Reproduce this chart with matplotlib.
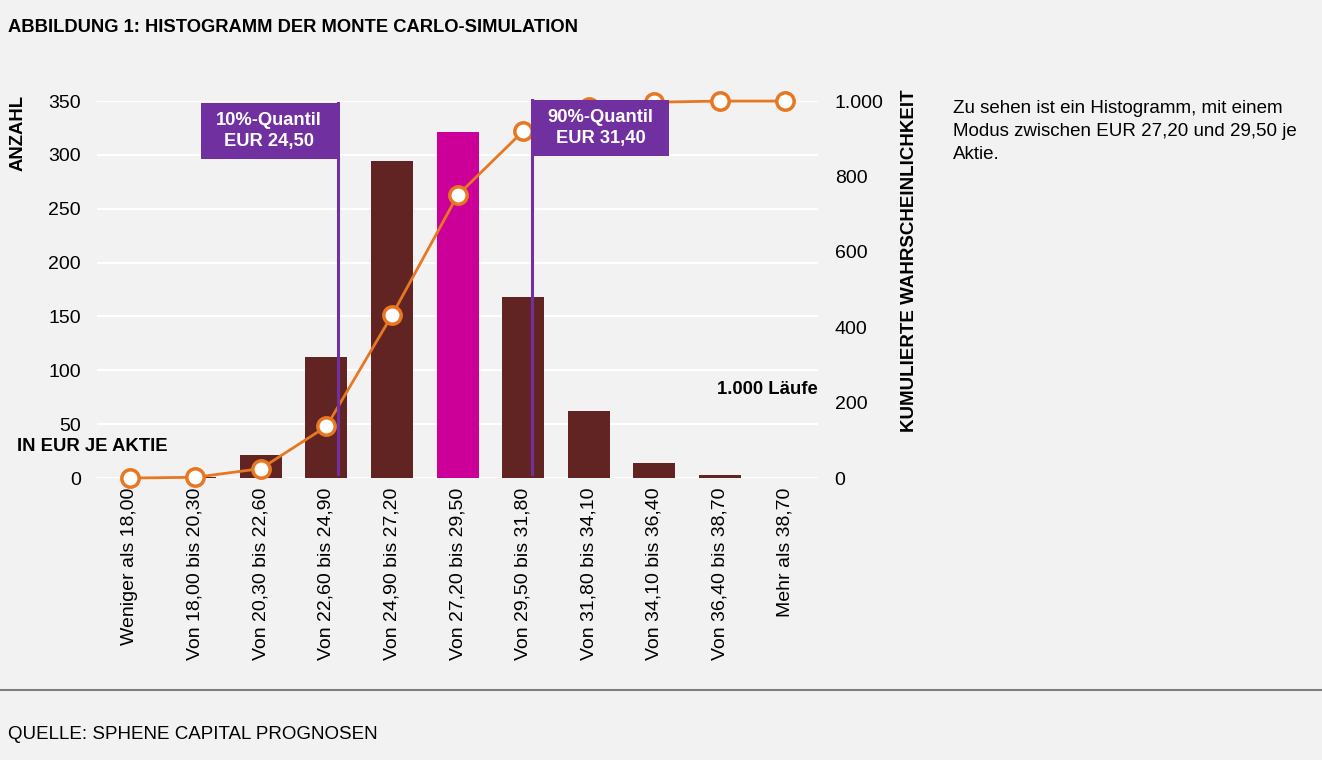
"""Histogramm der Monte Carlo-Simulation."""

import matplotlib

matplotlib.use("Agg")
from matplotlib import pyplot as plt
from matplotlib.patches import Rectangle
from matplotlib.lines import Line2D

plt.rcParams["font.family"] = ["Liberation Sans", "DejaVu Sans"]

categories = [
    "Weniger als 18,00",
    "Von 18,00 bis 20,30",
    "Von 20,30 bis 22,60",
    "Von 22,60 bis 24,90",
    "Von 24,90 bis 27,20",
    "Von 27,20 bis 29,50",
    "Von 29,50 bis 31,80",
    "Von 31,80 bis 34,10",
    "Von 34,10 bis 36,40",
    "Von 36,40 bis 38,70",
    "Mehr als 38,70",
]
counts = [0, 1, 21, 112, 294, 321, 168, 62, 14, 3, 0]
cumulative = [0, 2, 25, 137, 432, 750, 920, 985, 997, 1000, 1000]
mode_index = 5

quantile_labels = ["10%-Quantil\nEUR 24,50", "90%-Quantil\nEUR 31,40"]
quantile_pos = [3.17, 6.14]  # position on category axis

BG = "#F2F2F2"
DARK = "#622423"
MAGENTA = "#CC0099"
ORANGE = "#E87722"
PURPLE = "#7030A0"

fig = plt.figure(figsize=(13.22, 7.6), dpi=100, facecolor=BG)
ax = fig.add_axes([0.0734, 0.371, 0.5454, 0.496])
ax.set_facecolor(BG)
ax2 = ax.twinx()

x = list(range(len(categories)))
colors = [MAGENTA if i == mode_index else DARK for i in x]
ax.bar(x, counts, width=0.64, color=colors, zorder=2)
ax.set_xlim(-0.5, len(categories) - 0.5)
ax.set_ylim(0, 350)
ax.set_yticks(range(0, 351, 50))
ax.grid(axis="y", color="white", linewidth=1.5, zorder=0)
ax.set_axisbelow(True)
ax.set_xticks(x)
ax.set_xticklabels(categories, rotation=90, fontsize=14)
ax.tick_params(axis="both", length=0, labelsize=14, colors="black")
ax.tick_params(axis="x", pad=7)
ax.tick_params(axis="y", pad=11.5)
for s in ax.spines.values():
    s.set_visible(False)

ax2.plot(x, cumulative, color=ORANGE, linewidth=2, marker="o", markersize=12.5,
         markerfacecolor="white", markeredgecolor=ORANGE, markeredgewidth=2.5,
         zorder=3, clip_on=False)
ax2.set_ylim(0, 1000)
ax2.set_yticks(range(0, 1001, 200))
ax2.set_yticklabels(["0", "200", "400", "600", "800", "1.000"])
ax2.tick_params(axis="y", length=0, labelsize=14, pad=12)
for s in ax2.spines.values():
    s.set_visible(False)

# quantile markers with label boxes
box_w, box_h = 2.09, 52
box_tops = [348, 351]
for i, (pos, label) in enumerate(zip(quantile_pos, quantile_labels)):
    top = box_tops[i]
    ax2.add_line(Line2D([pos, pos], [12, top / 350 * 1000], color=PURPLE,
                        linewidth=2.2, zorder=4, clip_on=False))
    left = pos - box_w if i == 0 else pos
    rect = Rectangle((left, (top - box_h) / 350 * 1000), box_w, box_h / 350 * 1000,
                     facecolor=PURPLE, edgecolor="none", zorder=5, clip_on=False)
    ax2.add_patch(rect)
    ax2.text(left + box_w / 2, (top - box_h / 2) / 350 * 1000, label,
             ha="center", va="center", color="white", fontsize=13.2,
             fontweight="bold", linespacing=1.3, zorder=6)

ax.text(1.0, 0.236, "1.000 Läufe", transform=ax.transAxes, ha="right",
        va="center", fontsize=13.3, fontweight="bold")

fig.text(0.006, 0.964, "ABBILDUNG 1: HISTOGRAMM DER MONTE CARLO-SIMULATION",
         fontsize=13.2, fontweight="bold", va="center")
fig.text(0.0135, 0.875, "ANZAHL", rotation=90, fontsize=13.3, fontweight="bold",
         ha="center", va="top")
fig.text(0.0128, 0.413, "IN EUR JE AKTIE", fontsize=13.3, fontweight="bold",
         va="center")
fig.text(0.688, 0.882, "KUMULIERTE WAHRSCHEINLICHKEIT", rotation=90,
         fontsize=13.5, fontweight="bold", ha="center", va="top")
fig.text(0.721, 0.868,
         "Zu sehen ist ein Histogramm, mit einem\n"
         "Modus zwischen EUR 27,20 und 29,50 je\nAktie.",
         fontsize=13.5, va="top", linespacing=1.45)

fig.add_artist(Line2D([0, 1], [0.092, 0.092], color="#7F7F7F", linewidth=1.5))
fig.text(0.006, 0.033, "QUELLE: SPHENE CAPITAL PROGNOSEN", fontsize=13.5,
         va="center")

fig.savefig("out.png", dpi=100, facecolor=BG)
